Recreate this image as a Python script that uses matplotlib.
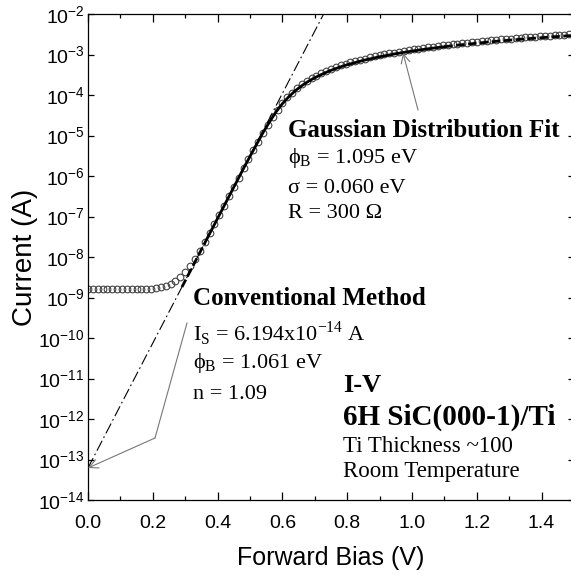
import numpy as np
import matplotlib
matplotlib.use("Agg")
import matplotlib.pyplot as plt
from matplotlib.ticker import FixedLocator, FuncFormatter, MultipleLocator

# ── measured I-V points (open circles), 15 mV steps ──────────────────────────
bias_v = [
    0.000, 0.015, 0.030, 0.045, 0.060, 0.075, 0.090, 0.105, 0.120, 0.135,
    0.150, 0.165, 0.180, 0.195, 0.210, 0.225, 0.240, 0.255, 0.270, 0.285,
    0.300, 0.315, 0.330, 0.345, 0.360, 0.375, 0.390, 0.405, 0.420, 0.435,
    0.450, 0.465, 0.480, 0.495, 0.510, 0.525, 0.540, 0.555, 0.570, 0.585,
    0.600, 0.615, 0.630, 0.645, 0.660, 0.675, 0.690, 0.705, 0.720, 0.735,
    0.750, 0.765, 0.780, 0.795, 0.810, 0.825, 0.840, 0.855, 0.870, 0.885,
    0.900, 0.915, 0.930, 0.945, 0.960, 0.975, 0.990, 1.005, 1.020, 1.035,
    1.050, 1.065, 1.080, 1.095, 1.110, 1.125, 1.140, 1.155, 1.170, 1.185,
    1.200, 1.215, 1.230, 1.245, 1.260, 1.275, 1.290, 1.305, 1.320, 1.335,
    1.350, 1.365, 1.380, 1.395, 1.410, 1.425, 1.440, 1.455, 1.470, 1.485,
]
current_a = [
    1.60e-9, 1.60e-9, 1.60e-9, 1.60e-9, 1.60e-9, 1.60e-9, 1.60e-9, 1.60e-9, 1.60e-9, 1.61e-9,
    1.61e-9, 1.62e-9, 1.64e-9, 1.66e-9, 1.71e-9, 1.78e-9, 1.91e-9, 2.13e-9, 2.49e-9, 3.12e-9,
    4.19e-9, 6.01e-9, 9.10e-9, 1.44e-8, 2.34e-8, 3.87e-8, 6.47e-8, 1.09e-7, 1.85e-7, 3.13e-7,
    5.32e-7, 9.05e-7, 1.54e-6, 2.60e-6, 4.27e-6, 7.10e-6, 1.17e-5, 1.86e-5, 2.90e-5, 4.36e-5,
    6.30e-5, 8.70e-5, 1.145e-4, 1.46e-4, 1.82e-4, 2.20e-4, 2.61e-4, 3.03e-4, 3.47e-4, 3.94e-4,
    4.42e-4, 4.90e-4, 5.39e-4, 5.89e-4, 6.40e-4, 6.91e-4, 7.43e-4, 7.95e-4, 8.48e-4, 9.01e-4,
    9.55e-4, 1.009e-3, 1.063e-3, 1.117e-3, 1.172e-3, 1.226e-3, 1.281e-3, 1.336e-3, 1.392e-3, 1.447e-3,
    1.503e-3, 1.559e-3, 1.615e-3, 1.671e-3, 1.727e-3, 1.783e-3, 1.840e-3, 1.896e-3, 1.953e-3, 2.010e-3,
    2.067e-3, 2.124e-3, 2.181e-3, 2.238e-3, 2.295e-3, 2.352e-3, 2.409e-3, 2.466e-3, 2.523e-3, 2.580e-3,
    2.638e-3, 2.695e-3, 2.753e-3, 2.811e-3, 2.868e-3, 2.926e-3, 2.984e-3, 3.041e-3, 3.099e-3, 3.157e-3,
]

# ── Gaussian distribution fit (solid inside fit range, dashed outside) ───────
fit_low_v = [0.29, 0.30, 0.32, 0.34, 0.36]
fit_low_i = [1.82e-9, 2.59e-9, 5.26e-9, 1.07e-8, 2.18e-8]
fit_mid_v = [0.36, 0.38, 0.40, 0.42, 0.44, 0.46, 0.48, 0.50, 0.52, 0.54,
             0.56, 0.58, 0.60, 0.62, 0.64, 0.66, 0.68, 0.70, 0.72, 0.74,
             0.76, 0.78, 0.80, 0.85, 0.90, 0.95, 1.00, 1.05, 1.10]
fit_mid_i = [2.18e-8, 4.43e-8, 9.0e-8, 1.83e-7, 3.72e-7, 7.55e-7, 1.54e-6, 3.05e-6, 6.0e-6, 1.17e-5,
             2.15e-5, 3.80e-5, 6.1e-5, 9.1e-5, 1.28e-4, 1.70e-4, 2.17e-4, 2.67e-4, 3.20e-4, 3.77e-4,
             4.36e-4, 4.96e-4, 5.58e-4, 7.16e-4, 8.79e-4, 1.044e-3, 1.213e-3, 1.383e-3, 1.555e-3]
fit_high_v = [1.10, 1.15, 1.20, 1.25, 1.30, 1.35, 1.40, 1.45, 1.50]
fit_high_i = [1.555e-3, 1.727e-3, 1.90e-3, 2.08e-3, 2.25e-3, 2.43e-3, 2.60e-3, 2.78e-3, 2.96e-3]

# ── conventional method (thermionic emission line) ───────────────────────────
conv_v = [0.0, 0.75]
conv_i = [6.194e-14, 2.24e-2]

x_ticks = [0.0, 0.2, 0.4, 0.6, 0.8, 1.0, 1.2, 1.4]
y_exps = list(range(-14, -1))

SANS  = "Liberation Sans"
SERIF = "Liberation Serif"

W, H = 571, 577
fig = plt.figure(figsize=(W / 100, H / 100), dpi=100)
L, R, T, B = 88, 574, 14, 500
ax = fig.add_axes([L / W, 1 - B / H, (R - L) / W, (B - T) / H])


def ax_xy(px, py):
    """pixel position in the picture -> axes fraction"""
    return (px - L) / (R - L), (B - py) / (B - T)


ax.plot(bias_v, current_a, "o", ms=4.8, mfc="none", mec="#444444", mew=0.8, zorder=2)
ax.plot(fit_mid_v, fit_mid_i, "-", color="black", lw=2.0, zorder=3)
for xv, yv in ((fit_low_v, fit_low_i), (fit_high_v, fit_high_i)):
    ax.plot(xv, yv, color="black", lw=2.0, dashes=(3, 1.3), zorder=3)
ax.plot(conv_v, conv_i, color="black", lw=0.8, dashes=(10, 3, 1.5, 3), zorder=3)

ax.set_yscale("log")
ax.set_xlim(0, 1.5)
ax.set_ylim(1e-14, 1e-2)

ax.xaxis.set_major_locator(FixedLocator(x_ticks))
ax.xaxis.set_minor_locator(MultipleLocator(0.1))
ax.xaxis.set_major_formatter(FuncFormatter(lambda v, p: f"{v:.1f}"))
ax.yaxis.set_major_locator(FixedLocator([10.0 ** e for e in y_exps]))
ax.yaxis.set_minor_locator(FixedLocator([]))
ax.yaxis.set_major_formatter(
    FuncFormatter(lambda v, p: r"$\mathregular{10^{%d}}$" % int(round(np.log10(v)))))

ax.tick_params(which="both", direction="in", top=True, right=True, width=0.9,
               labelsize=14)
ax.tick_params(which="major", length=6)
ax.tick_params(which="minor", length=3)
ax.tick_params(axis="x", pad=11)
ax.tick_params(axis="y", length=4, pad=2.5)
for lab in ax.get_xticklabels() + ax.get_yticklabels():
    lab.set_fontfamily(SANS)
for sp in ax.spines.values():
    sp.set_linewidth(0.9)

ax.set_xlabel("Forward Bias (V)", fontsize=18, fontfamily=SANS, labelpad=10)
ax.set_ylabel("Current (A)", fontsize=20, fontfamily=SANS, labelpad=0)

# ── annotation texts ─────────────────────────────────────────────────────────
notes = [
    (288, 137, "Gaussian Distribution Fit", 18, "bold"),
    (288, 163, r"ϕ$_\mathregular{B}$ = 1.095 eV", 16, "normal"),
    (288, 193, "σ = 0.060 eV", 16, "normal"),
    (288, 218, "R = 300 Ω", 16, "normal"),
    (193, 305, "Conventional Method", 18, "bold"),
    (193, 341, r"I$_\mathregular{S}$ = 6.194x10$^\mathregular{-14}$ A", 16, "normal"),
    (193, 368, r"ϕ$_\mathregular{B}$ = 1.061 eV", 16, "normal"),
    (193, 399, "n = 1.09", 16, "normal"),
    (343, 392, "I-V", 19, "bold"),
    (343, 425, "6H SiC(000-1)/Ti", 21, "bold"),
    (343, 452, "Ti Thickness ~100", 16.5, "normal"),
    (343, 477, "Room Temperature", 16.5, "normal"),
]
for px, py, txt, size, weight in notes:
    ax.text(*ax_xy(px, py), txt, transform=ax.transAxes, fontsize=size,
            fontweight=weight, fontfamily=[SERIF, "DejaVu Serif"],
            ha="left", va="baseline")

# ── arrows ───────────────────────────────────────────────────────────────────
arrow_kw = dict(arrowstyle="->", color="#777777", lw=0.8, mutation_scale=16,
                shrinkA=0, shrinkB=0)
ax.annotate("", xy=ax_xy(403, 53), xytext=ax_xy(418, 110),
            xycoords="axes fraction", textcoords="axes fraction", arrowprops=arrow_kw)
p1, p2 = ax_xy(187, 323), ax_xy(155, 438)
ax.plot([p1[0], p2[0]], [p1[1], p2[1]], color="#777777", lw=0.8,
        transform=ax.transAxes)
ax.annotate("", xy=ax_xy(88, 468), xytext=p2,
            xycoords="axes fraction", textcoords="axes fraction", arrowprops=arrow_kw)

fig.savefig("out.png", dpi=100)
